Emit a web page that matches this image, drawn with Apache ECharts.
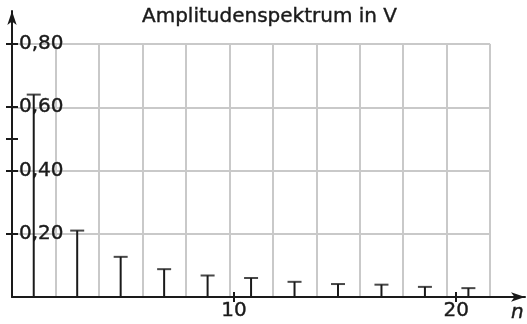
<!DOCTYPE html>
<html>
<head>
<meta charset="utf-8">
<script src="https://cdn.jsdelivr.net/npm/echarts@6/dist/echarts.min.js"></script>
<style>
html, body { margin: 0; padding: 0; background: #fff; }
#chart { width: 527px; height: 324px; }
</style>
</head>
<body>
<div id="chart"></div>
<script>
var harmonics = [1, 3, 5, 7, 9, 11, 13, 15, 17, 19, 21];
var amplitudes = [0.64, 0.21, 0.127, 0.088, 0.068, 0.060, 0.048, 0.041, 0.039, 0.032, 0.028];
var yLabelValues = [0.2, 0.4, 0.6, 0.8];
var yTickValues = [0.2, 0.4, 0.5, 0.6, 0.8];
var xLabelValues = [10, 20];

var font = 'DejaVu Sans';
var ink = '#1a1a1a';
var textBold = { textBorderColor: ink, textBorderWidth: 0.4 };

var points = [];
for (var i = 0; i < harmonics.length; i++) {
	points.push([harmonics[i], amplitudes[i]]);
}

var hiddenLine = { show: true, onZero: false, lineStyle: { opacity: 0 } };

var option = {
	animation: false,
	title: {
		text: 'Amplitudenspektrum in V',
		left: 137,
		top: 2,
		textStyle: Object.assign({ fontFamily: font, fontSize: 20, fontWeight: 'normal', color: ink }, textBold)
	},
	grid: [
		{ left: 12, right: 26, top: 44, bottom: 27 },
		{ left: 12, right: 2, top: 11, bottom: 27 }
	],
	xAxis: [
		{
			gridIndex: 0, type: 'value', min: 0, max: 22, interval: 2,
			axisLine: { show: false }, axisTick: { show: false }, axisLabel: { show: false },
			splitLine: { lineStyle: { color: '#c9c9c9', width: 2 } },
			name: 'n', nameLocation: 'end', nameGap: 21,
			nameTextStyle: Object.assign({ fontFamily: font, fontSize: 20, fontStyle: 'italic', color: ink,
				verticalAlign: 'top', align: 'left', padding: [6, 0, 0, 0] }, textBold)
		},
		{
			gridIndex: 1, type: 'value', min: 0, max: 23.1, position: 'bottom',
			axisLine: { show: true, onZero: false, symbol: ['none', 'arrow'], symbolSize: [7, 14],
				lineStyle: { color: ink, width: 2 } },
			axisTick: { show: true, customValues: xLabelValues, length: 5, lineStyle: { color: ink, width: 2 } },
			axisLabel: Object.assign({ show: true, customValues: xLabelValues, margin: 4,
				fontFamily: font, fontSize: 20, color: ink }, textBold),
			splitLine: { show: false }
		},
		{
			gridIndex: 1, type: 'value', min: 0, max: 23.1, position: 'bottom', offset: 0,
			axisLine: hiddenLine,
			axisTick: { show: true, inside: true, customValues: xLabelValues, length: 5, lineStyle: { color: ink, width: 2 } },
			axisLabel: { show: false, customValues: xLabelValues },
			splitLine: { show: false }
		}
	],
	yAxis: [
		{
			gridIndex: 0, type: 'value', min: 0, max: 0.8, interval: 0.2,
			axisLine: { show: false }, axisTick: { show: false }, axisLabel: { show: false },
			splitLine: { lineStyle: { color: '#c9c9c9', width: 2 } }
		},
		{
			gridIndex: 1, type: 'value', min: 0, max: 0.904, position: 'left',
			axisLine: { show: true, onZero: false, symbol: ['none', 'arrow'], symbolSize: [7, 14],
				lineStyle: { color: ink, width: 2 } },
			axisTick: { show: true, customValues: yTickValues, length: 6, lineStyle: { color: ink, width: 2 } },
			axisLabel: Object.assign({ show: true, inside: true, customValues: yLabelValues, margin: 7,
				fontFamily: font, fontSize: 20, color: ink,
				formatter: function (v) { return v.toFixed(2).replace('.', ','); } }, textBold),
			splitLine: { show: false }
		},
		{
			gridIndex: 1, type: 'value', min: 0, max: 0.904, position: 'left', offset: 0,
			axisLine: hiddenLine,
			axisTick: { show: true, inside: true, customValues: yTickValues, length: 6, lineStyle: { color: ink, width: 2 } },
			axisLabel: { show: false, customValues: yTickValues },
			splitLine: { show: false }
		}
	],
	series: [
		{
			type: 'bar', xAxisIndex: 0, yAxisIndex: 0,
			data: points, barWidth: 2,
			itemStyle: { color: ink }
		},
		{
			type: 'scatter', xAxisIndex: 0, yAxisIndex: 0,
			data: points, symbol: 'rect', symbolSize: [14, 2],
			itemStyle: { color: ink }
		}
	]
};

var myChart = echarts.init(document.getElementById('chart'));
myChart.setOption(option);
</script>
</body>
</html>
